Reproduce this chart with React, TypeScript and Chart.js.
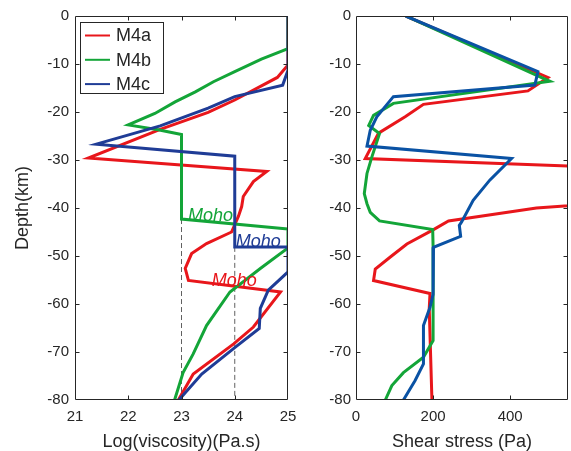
import React, { useEffect, useRef } from 'react';
import { Chart, registerables } from 'chart.js';

Chart.register(...registerables);

// ---------- data ----------
const seriesNames = ['M4a', 'M4b', 'M4c'];
const seriesColors = ['#e8161b', '#13a538', '#1f3c96'];
const shearColors = ['#e8161b', '#13a538', '#0a52a4'];

// Left panel: Log(viscosity) vs depth
const m4aViscosity = [25, 25, 24.8, 24.0, 23.5, 22.6, 21.25, 24.6, 24.35, 24.16, 24.13, 24.07, 23.94, 23.47, 23.19, 23.07, 23.13, 24.86, 24.35, 23.98, 23.22, 22.94];
const m4aViscosityDepth = [0, -10.2, -12.8, -17.5, -20.1, -23.6, -29.6, -32.4, -34.5, -37.6, -39.7, -41.7, -45.0, -47.4, -49.5, -52.6, -55.1, -57.5, -64.8, -68.3, -74.6, -80];

const m4bViscosity = [25, 25, 24.5, 24.0, 23.6, 23.26, 22.88, 22.5, 22.0, 22.56, 23.0, 23.0, 25, 25, 24.48, 23.91, 23.47, 23.22, 23.03, 22.87];
const m4bViscosityDepth = [0, -6.8, -9, -11.6, -13.7, -15.8, -17.9, -20.3, -22.7, -23.7, -24.7, -42.3, -44.4, -48.3, -52.6, -57.5, -64.5, -70.4, -74.3, -80];

const m4cViscosity = [25, 25, 24.9, 24.0, 23.5, 22.6, 21.4, 24.0, 24.0, 25, 25, 24.63, 24.48, 24.46, 24.0, 23.38, 22.95];
const m4cViscosityDepth = [0, -11.3, -14.4, -16.8, -19.2, -22.9, -26.7, -29.2, -48.1, -48.1, -53.3, -57.1, -60.9, -65.1, -69.1, -74.6, -80];

// Right panel: shear stress vs depth
const m4aShear = [129, 498, 446, 175, 127.5, 58.5, 24, 1500, 468, 240, 201, 132, 89, 50, 45.5, 192, 190, 197];
const m4aShearDepth = [0, -12.8, -15.6, -18.4, -21, -24.4, -29.7, -34, -40.0, -42.7, -44.5, -47.5, -50.2, -52.7, -55.1, -57.8, -61, -80];

const m4bShear = [129, 503, 97, 45.5, 33, 61, 41, 28.5, 21.5, 28.5, 37, 61, 199, 200, 200, 175, 123, 93, 76];
const m4bShearDepth = [0, -13.6, -18.2, -20.7, -22.8, -24.5, -29.4, -32.8, -37, -39.1, -40.9, -42.7, -44.5, -48, -67.6, -71.1, -74.3, -77, -80];

const m4cShear = [129, 472, 464, 97, 54, 37, 28.5, 403.5, 347, 304, 274, 268, 271.5, 201, 200, 192, 175, 175, 153, 123];
const m4cShearDepth = [0, -11.6, -14.4, -16.8, -21, -23.8, -27.1, -29.7, -34.2, -38.4, -42.9, -43.6, -45.9, -48.2, -58, -60.7, -64.5, -72.5, -76, -80];

// Moho markers (dashed reference lines and labels), in data units
const mohoDashX = [23, 24];
const mohoDashTop = [-42.3, -48.1];
const mohoLabelText = 'Moho';
const mohoLabelX = [23.57, 23.12, 24.02];
const mohoLabelDepth = [-56.2, -42.7, -48.2];

// axes
const viscosityMin = 21;
const viscosityMax = 25;
const viscosityTicks = [21, 22, 23, 24, 25];
const shearMin = 0;
const shearMax = 550;
const shearTicks = [0, 200, 400];
const depthMin = -80;
const depthMax = 0;
const depthStep = 10;

const FONT = 'Liberation Sans, Arial, sans-serif';
const INK = '#262626';

const pts = (xs: number[], ys: number[]) => xs.map((x, i) => ({ x, y: ys[i] }));

// ---------- plugins ----------
const boxPlugin = {
  id: 'matlabBox',
  afterDatasetsDraw(chart: any) {
    const { ctx, chartArea, scales } = chart;
    const l = Math.round(chartArea.left) + 0.5;
    const r = Math.round(chartArea.right) - 0.5;
    const t = Math.round(chartArea.top) + 0.5;
    const b = Math.round(chartArea.bottom) - 0.5;
    const tl = 4;
    ctx.save();
    ctx.strokeStyle = INK;
    ctx.lineWidth = 1;
    ctx.beginPath();
    ctx.rect(l, t, r - l, b - t);
    scales.x.ticks.forEach((tk: any) => {
      const px = Math.round(scales.x.getPixelForValue(tk.value)) + 0.5;
      if (px <= l + 1 || px >= r - 1) return;
      ctx.moveTo(px, b);
      ctx.lineTo(px, b - tl);
      ctx.moveTo(px, t);
      ctx.lineTo(px, t + tl);
    });
    scales.y.ticks.forEach((tk: any) => {
      const py = Math.round(scales.y.getPixelForValue(tk.value)) + 0.5;
      if (py <= t + 1 || py >= b - 1) return;
      ctx.moveTo(l, py);
      ctx.lineTo(l + tl, py);
      ctx.moveTo(r, py);
      ctx.lineTo(r - tl, py);
    });
    ctx.stroke();
    ctx.restore();
  },
};

const mohoPlugin = {
  id: 'mohoLabels',
  afterDatasetsDraw(chart: any, _args: any, opts: any) {
    if (!opts || !opts.show) return;
    const { ctx, scales } = chart;
    ctx.save();
    ctx.font = `italic 18px ${FONT}`;
    ctx.textAlign = 'left';
    ctx.textBaseline = 'alphabetic';
    mohoLabelX.forEach((mx, i) => {
      ctx.fillStyle = seriesColors[i];
      ctx.fillText(mohoLabelText, scales.x.getPixelForValue(mx), scales.y.getPixelForValue(mohoLabelDepth[i]));
    });
    ctx.restore();
  },
};

const legendPlugin = {
  id: 'boxLegend',
  afterDatasetsDraw(chart: any, _args: any, opts: any) {
    if (!opts || !opts.show) return;
    const { ctx } = chart;
    const items = chart.data.datasets.filter((d: any) => d.label);
    const bx = 80.5, by = 22.5, bw = 83, bh = 71;
    ctx.save();
    ctx.fillStyle = '#ffffff';
    ctx.fillRect(bx, by, bw, bh);
    ctx.strokeStyle = INK;
    ctx.lineWidth = 1;
    ctx.strokeRect(bx, by, bw, bh);
    ctx.font = `18px ${FONT}`;
    ctx.textBaseline = 'middle';
    ctx.textAlign = 'left';
    items.forEach((d: any, i: number) => {
      const cy = 35.5 + i * 24.3;
      ctx.strokeStyle = d.borderColor;
      ctx.lineWidth = 2;
      ctx.beginPath();
      ctx.moveTo(85, cy);
      ctx.lineTo(110, cy);
      ctx.stroke();
      ctx.fillStyle = INK;
      ctx.fillText(d.label, 116, cy + 1);
    });
    ctx.restore();
  },
};

// ---------- chart factory ----------
function makeConfig(opts: {
  datasets: any[];
  xMin: number;
  xMax: number;
  xTicks: number[];
  xTitle: string;
  yTitle: string | null;
  yWidth: number;
  padRight: number;
  yLabelPad: number;
  legend: boolean;
  moho: boolean;
}) {
  return {
    type: 'line' as const,
    data: { datasets: opts.datasets },
    plugins: [boxPlugin, mohoPlugin, legendPlugin],
    options: {
      responsive: false,
      animation: false as const,
      events: [],
      layout: { padding: { top: 16, right: opts.padRight, left: 0, bottom: 0 } },
      elements: { point: { radius: 0 }, line: { tension: 0 } },
      plugins: {
        legend: { display: false },
        tooltip: { enabled: false },
        mohoLabels: { show: opts.moho },
        boxLegend: { show: opts.legend },
      },
      scales: {
        x: {
          type: 'linear',
          min: opts.xMin,
          max: opts.xMax,
          afterBuildTicks: (scale: any) => {
            scale.ticks = opts.xTicks.map((v) => ({ value: v }));
          },
          afterFit: (scale: any) => {
            scale.height = 51;
          },
          grid: { display: false, drawTicks: false },
          border: { display: false },
          ticks: {
            padding: 8,
            color: INK,
            font: { family: FONT, size: 15 },
            maxRotation: 0,
            includeBounds: false,
          },
          title: {
            display: true,
            text: opts.xTitle,
            color: INK,
            font: { family: FONT, size: 18, lineHeight: 1 },
            padding: { top: 0, bottom: 0 },
          },
        },
        y: {
          type: 'linear',
          min: depthMin,
          max: depthMax,
          afterBuildTicks: (scale: any) => {
            const t: any[] = [];
            for (let v = depthMin; v <= depthMax; v += depthStep) t.push({ value: v });
            scale.ticks = t;
          },
          afterFit: (scale: any) => {
            scale.width = opts.yWidth;
          },
          grid: { display: false, drawTicks: false },
          border: { display: false },
          ticks: {
            padding: opts.yLabelPad,
            color: INK,
            font: { family: FONT, size: 15 },
          },
          title: {
            display: !!opts.yTitle,
            text: opts.yTitle || '',
            color: INK,
            font: { family: FONT, size: 18, lineHeight: 1 },
            padding: { top: 14, bottom: 0 },
          },
        },
      },
    },
  };
}

function lineDs(label: string, color: string, data: any[], order: number) {
  return {
    label,
    data,
    borderColor: color,
    backgroundColor: color,
    borderWidth: 3,
    pointRadius: 0,
    fill: false,
    order,
    borderJoinStyle: 'miter',
  };
}

function dashDs(x: number, top: number) {
  return {
    label: '',
    data: [
      { x, y: top },
      { x, y: depthMin },
    ],
    borderColor: '#606060',
    borderWidth: 1,
    borderDash: [5, 3],
    pointRadius: 0,
    fill: false,
    order: 10,
  };
}

export default function App() {
  const leftRef = useRef<HTMLCanvasElement | null>(null);
  const rightRef = useRef<HTMLCanvasElement | null>(null);

  useEffect(() => {
    Chart.defaults.font.family = FONT;
    Chart.defaults.color = INK;

    const leftDatasets = [
      lineDs(seriesNames[0], seriesColors[0], pts(m4aViscosity, m4aViscosityDepth), 3),
      lineDs(seriesNames[1], seriesColors[1], pts(m4bViscosity, m4bViscosityDepth), 2),
      lineDs(seriesNames[2], seriesColors[2], pts(m4cViscosity, m4cViscosityDepth), 1),
      ...mohoDashX.map((x, i) => dashDs(x, mohoDashTop[i])),
    ];
    const rightDatasets = [
      lineDs(seriesNames[0], shearColors[0], pts(m4aShear, m4aShearDepth), 3),
      lineDs(seriesNames[1], shearColors[1], pts(m4bShear, m4bShearDepth), 2),
      lineDs(seriesNames[2], shearColors[2], pts(m4cShear, m4cShearDepth), 1),
    ];

    const left = new Chart(
      leftRef.current as HTMLCanvasElement,
      makeConfig({
        datasets: leftDatasets,
        xMin: viscosityMin,
        xMax: viscosityMax,
        xTicks: viscosityTicks,
        xTitle: 'Log(viscosity)(Pa.s)',
        yTitle: 'Depth(km)',
        yWidth: 75,
        padRight: 18,
        yLabelPad: 6,
        legend: true,
        moho: true,
      }) as any
    );
    const right = new Chart(
      rightRef.current as HTMLCanvasElement,
      makeConfig({
        datasets: rightDatasets,
        xMin: shearMin,
        xMax: shearMax,
        xTicks: shearTicks,
        xTitle: 'Shear stress (Pa)',
        yTitle: null,
        yWidth: 56,
        padRight: 3,
        yLabelPad: 5,
        legend: false,
        moho: false,
      }) as any
    );
    return () => {
      left.destroy();
      right.destroy();
    };
  }, []);

  return (
    <div style={{ position: 'fixed', left: 0, top: 0, width: 571, height: 451, background: '#ffffff' }}>
      <canvas ref={rightRef} width={271} height={451} style={{ position: 'absolute', left: 300, top: 0 }} />
      <canvas ref={leftRef} width={306} height={451} style={{ position: 'absolute', left: 0, top: 0 }} />
    </div>
  );
}
